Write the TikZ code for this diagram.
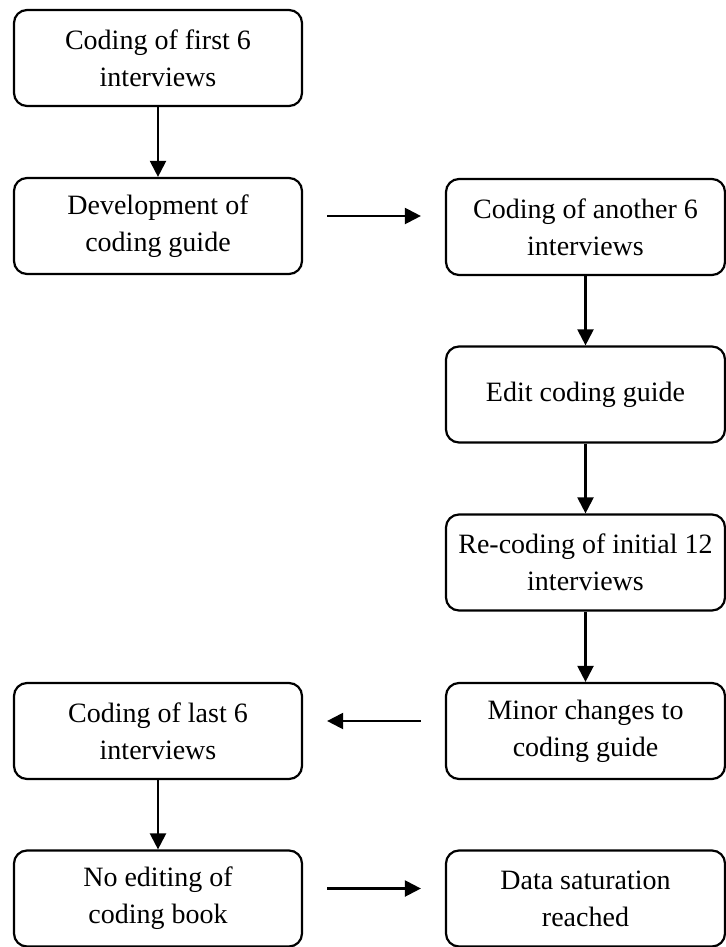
\documentclass[tikz,border=0pt]{standalone}
\usepackage{fontspec}
\setmainfont{Liberation Serif}
\usetikzlibrary{arrows.meta}
\begin{document}
\begin{tikzpicture}[x=0.5pt, y=-0.5pt, line width=1.1pt,
    >={Triangle[width=8pt, length=8pt]},
    stage/.style={draw, rounded corners=6.5pt, align=center, minimum height=48pt,
        font=\fontsize{14}{18.5}\selectfont},
    leftstage/.style={stage, minimum width=144pt},
    rightstage/.style={stage, minimum width=139.5pt},
    across/.style={->, shorten >=12pt, shorten <=12pt}]
    \useasboundingbox (0, 0) rectangle (726, 947);
    % left column
    \node [leftstage]  (first)   at (158, 58)    {Coding of first 6\\interviews};
    \node [leftstage]  (guide)   at (158, 226)   {Development of\\coding guide};
    \node [leftstage]  (last)    at (158, 731)   {Coding of last 6\\interviews};
    \node [leftstage]  (noedit)  at (158, 898.5) {No editing of\\coding book};
    % right column
    \node [rightstage] (another) at (585.5, 227)   {Coding of another 6\\interviews};
    \node [rightstage] (edit)    at (585.5, 394.5) {Edit coding guide};
    \node [rightstage] (recode)  at (585.5, 562.5) {Re-coding of initial 12\\interviews};
    \node [rightstage] (minor)   at (585.5, 731)   {Minor changes to\\coding guide};
    \node [rightstage] (reached) at (585.5, 898.5) {Data saturation\\reached};
    \foreach \from/\to in {first/guide, another/edit, edit/recode, recode/minor, last/noedit} {
        \draw [->] (\from) -- (\to);
        }
    \draw [across] ([yshift=5pt]guide.east) -- ([yshift=5pt]guide.east -| another.west);
    \draw [across] ([yshift=5pt]minor.west) -- ([yshift=5pt]minor.west -| last.east);
    \draw [across] ([yshift=5pt]noedit.east) -- ([yshift=5pt]noedit.east -| reached.west);
\end{tikzpicture}
\end{document}
